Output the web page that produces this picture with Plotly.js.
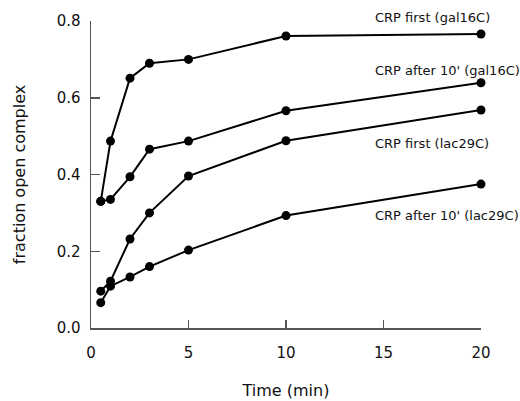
<!DOCTYPE html>
<html>
<head>
<meta charset="utf-8">
<script src="https://cdn.plot.ly/plotly-3.0.1.min.js"></script>
<style>html,body{margin:0;padding:0;background:#fff;}#chart{width:520px;height:401px;}</style>
</head>
<body>
<div id="chart"></div>
<script>
var times = [0.5, 1, 2, 3, 5, 10, 20];
var crpFirstGal = [0.33, 0.487, 0.651, 0.69, 0.70, 0.761, 0.766];
var crpAfterGal = [0.33, 0.335, 0.394, 0.466, 0.487, 0.566, 0.639];
var crpFirstLac = [0.096, 0.122, 0.232, 0.30, 0.396, 0.488, 0.568];
var crpAfterLac = [0.066, 0.109, 0.133, 0.16, 0.203, 0.293, 0.375];
var seriesNames = ["CRP first (gal16C)", "CRP after 10' (gal16C)", "CRP first (lac29C)", "CRP after 10' (lac29C)"];
var labelX = [14.45, 14.45, 14.45, 14.45];
var labelY = [0.808, 0.672, 0.482, 0.294];
var xTicks = [0, 5, 10, 15, 20];
var yTicks = [0, 0.2, 0.4, 0.6, 0.8];
var yTickText = ["0.0", "0.2", "0.4", "0.6", "0.8"];

var yMax = 0.8;
var allSeries = [crpFirstGal, crpAfterGal, crpFirstLac, crpAfterLac];
var font = "DejaVu Sans, sans-serif";
var txt = '#111';
var traces = allSeries.map(function (ys, i) {
  return {
    x: times, y: ys, name: seriesNames[i], type: 'scatter', mode: 'lines+markers',
    line: {color: '#000', width: 2},
    marker: {color: '#000', size: 9, symbol: 'circle'},
    cliponaxis: false, showlegend: false
  };
});
var annotations = seriesNames.map(function (n, i) {
  return {
    text: n, x: labelX[i], y: labelY[i] / yMax, xref: 'x', yref: 'paper',
    xanchor: 'left', yanchor: 'middle', showarrow: false,
    font: {family: font, size: 13, color: txt}
  };
});
var layout = {
  width: 520, height: 401,
  margin: {l: 91, r: 39, t: 21, b: 73},
  paper_bgcolor: '#fff', plot_bgcolor: '#fff',
  showlegend: false,
  font: {family: font, color: txt},
  xaxis: {
    range: [0, 20], tickvals: xTicks, ticktext: xTicks.map(String),
    ticks: 'inside', ticklen: 8, tickwidth: 1.5, tickcolor: '#555',
    showline: true, linecolor: '#555', linewidth: 1.5, showgrid: false, zeroline: false,
    tickfont: {family: font, size: 15, color: txt},
    ticklabelstandoff: 10,
    title: {text: 'Time (min)', font: {family: font, size: 16, color: txt}, standoff: 24}
  },
  yaxis: {
    range: [0, yMax], tickvals: yTicks, ticktext: yTickText,
    ticks: 'inside', ticklen: 9, tickwidth: 1.5, tickcolor: '#555',
    showline: true, linecolor: '#555', linewidth: 1.5, showgrid: false, zeroline: false,
    tickfont: {family: font, size: 15, color: txt},
    ticklabelstandoff: 6,
    title: {text: 'fraction open complex', font: {family: font, size: 16, color: txt}, standoff: 27}
  },
  annotations: annotations
};
Plotly.newPlot('chart', traces, layout, {staticPlot: true, displayModeBar: false});
</script>
</body>
</html>
